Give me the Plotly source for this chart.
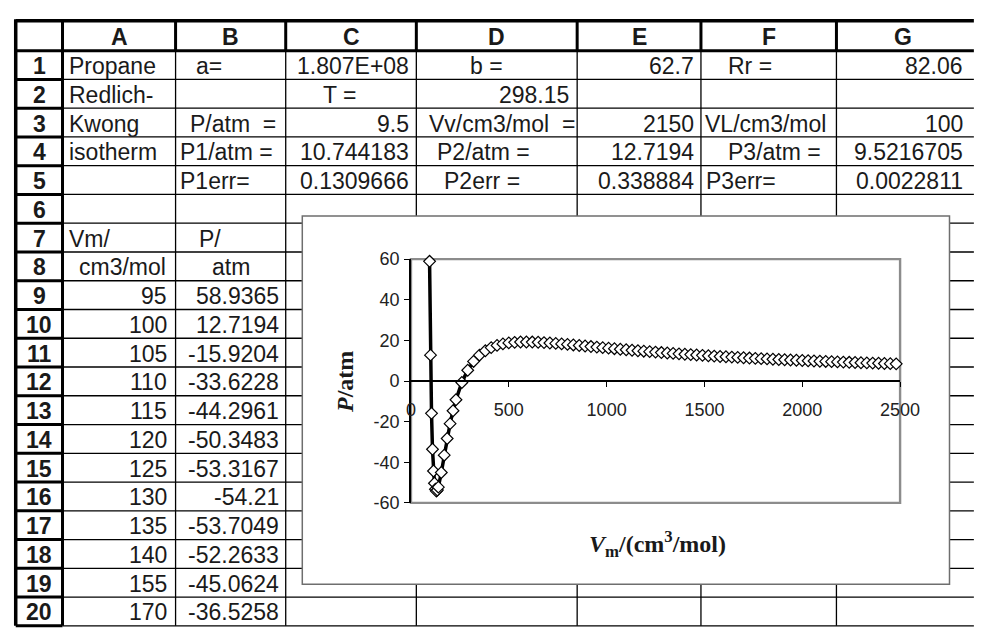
import plotly.graph_objects as go

W, H = 989, 631

# Redlich-Kwong isotherm for propane at 298.15 K
vm = [95, 100, 105, 110, 115, 120, 125, 130, 135, 140,
      155, 170, 185, 200, 215, 230,
      260, 290, 320, 350, 380, 410, 440, 470, 500, 530,
      560, 590, 620, 650, 680, 710, 740, 770, 800, 830,
      860, 890, 920, 950, 980, 1010, 1040, 1070, 1100, 1130,
      1160, 1190, 1220, 1250, 1280, 1310, 1340, 1370, 1400, 1430,
      1460, 1490, 1520, 1550, 1580, 1610, 1640, 1670, 1700, 1730,
      1760, 1790, 1820, 1850, 1880, 1910, 1940, 1970, 2000, 2030,
      2060, 2090, 2120, 2150, 2180, 2210, 2240, 2270, 2300, 2330,
      2360, 2390, 2420, 2450, 2480]
p_atm = [58.9365, 12.7194, -15.9204, -33.6228, -44.2961, -50.3483, -53.3167, -54.21, -53.7049, -52.2633,
         -45.0624, -36.5258, -28.32, -20.99, -14.63, -9.21,
         -0.72, 5.32, 9.63, 12.71, 14.90, 16.45, 17.53, 18.27, 18.75, 19.04,
         19.19, 19.22, 19.18, 19.07, 18.91, 18.72, 18.51, 18.27, 18.02, 17.76,
         17.50, 17.23, 16.96, 16.70, 16.43, 16.17, 15.91, 15.65, 15.40, 15.16,
         14.92, 14.68, 14.45, 14.23, 14.01, 13.80, 13.59, 13.38, 13.18, 12.99,
         12.80, 12.62, 12.44, 12.26, 12.09, 11.93, 11.76, 11.61, 11.45, 11.30,
         11.15, 11.01, 10.87, 10.73, 10.60, 10.47, 10.34, 10.21, 10.09, 9.97,
         9.86, 9.74, 9.63, 9.52, 9.41, 9.31, 9.21, 9.11, 9.01, 8.91,
         8.82, 8.73, 8.64, 8.55, 8.46]

x_ticks = [0, 500, 1000, 1500, 2000, 2500]
y_ticks = [-60, -40, -20, 0, 20, 40, 60]

# worksheet parameter block (rows 1-8)
col_names = ["A", "B", "C", "D", "E", "F", "G"]
param_cells = [
    (1, "A", "Propane", "l", 5), (1, "B", "a=", "l", 19), (1, "C", "1.807E+08", "r", 5),
    (1, "D", "b =", "l", 53), (1, "E", "62.7", "r", 5), (1, "F", "Rr =", "l", 26),
    (1, "G", "82.06", "r", 5),
    (2, "A", "Redlich-", "l", 5), (2, "C", "T =", "l", 36), (2, "D", "298.15", "r", 6),
    (3, "A", "Kwong", "l", 5), (3, "B", "P/atm  =", "l", 13), (3, "C", "9.5", "r", 5),
    (3, "D", "Vv/cm3/mol  =", "l", 11), (3, "E", "2150", "r", 5), (3, "F", "VL/cm3/mol", "l", 2),
    (3, "G", "100", "r", 5),
    (4, "A", "isotherm", "l", 5), (4, "B", "P1/atm =", "l", 2), (4, "C", "10.744183", "r", 5),
    (4, "D", "P2/atm =", "l", 19), (4, "E", "12.7194", "r", 5), (4, "F", "P3/atm =", "l", 26),
    (4, "G", "9.5216705", "r", 5),
    (5, "B", "P1err=", "l", 2), (5, "C", "0.1309666", "r", 5), (5, "D", "P2err =", "l", 26),
    (5, "E", "0.338884", "r", 5), (5, "F", "P3err=", "l", 3), (5, "G", "0.0022811", "r", 5),
    (7, "A", "Vm/", "l", 5), (7, "B", "P/", "l", 22),
    (8, "A", "cm3/mol", "c", 4), (8, "B", "atm", "c", 0),
]
first_data_row = 9
n_rows = 20

# sheet geometry (pixels)
col_edges = [59, 175, 288, 422, 587, 714, 853, 990]
left_edge, top_edge, header_bottom, row_h = 11, 11, 42, 29.7
chart_box = (305, 212.7, 969, 593)
plot_px = (416.5, 257.3, 918.3, 509)   # left, top, right, bottom

CELL_FONT = "Arial, Liberation Sans, sans-serif"
SERIF = "Times New Roman, Liberation Serif, serif"
TXT = "#1a1a1a"


def fx(px):
    return px / W


def fy(py):
    return 1 - py / H


def row_top(r):
    return header_bottom + (r - 1) * row_h


shapes = []


def line(x0, y0, x1, y1, w, color="black"):
    shapes.append(dict(type="line", xref="paper", yref="paper",
                       x0=fx(x0), y0=fy(y0), x1=fx(x1), y1=fy(y1),
                       line=dict(color=color, width=w), layer="below"))


# thin cell grid
for xe in col_edges[1:-1]:
    line(xe, header_bottom, xe, H + 5, 1.3)
for r in range(1, n_rows + 1):
    yb = row_top(r) + row_h
    line(col_edges[0], yb, W + 5, yb, 1.3)
# heavy header borders
for xe in col_edges[1:-1]:
    line(xe, top_edge, xe, header_bottom, 3)
for r in range(1, n_rows + 1):
    yb = row_top(r) + row_h
    line(left_edge, yb, col_edges[0], yb, 3)
line(left_edge, top_edge - 1.5, left_edge, H + 5, 3.5)
line(col_edges[0], top_edge, col_edges[0], H + 5, 3)
line(left_edge, top_edge, W + 5, top_edge, 3.5)
line(left_edge, header_bottom, W + 5, header_bottom, 3)

# embedded chart frame
cx0, cy0, cx1, cy1 = chart_box
shapes.append(dict(type="rect", xref="paper", yref="paper",
                   x0=fx(cx0), y0=fy(cy1), x1=fx(cx1), y1=fy(cy0),
                   fillcolor="white", line=dict(color="#6e6e6e", width=1.5), layer="below"))
# plot-area border
shapes.append(dict(type="rect", xref="x domain", yref="y domain", x0=0, x1=1, y0=0, y1=1,
                   line=dict(color="#8c8c8c", width=2.4), layer="below"))

annotations = []


def text(x, y, s, anchor="center", size=23, bold=False, family=CELL_FONT, angle=0):
    annotations.append(dict(xref="paper", yref="paper", x=fx(x), y=fy(y),
                            text=f"<b>{s}</b>" if bold else s, showarrow=False,
                            xanchor=anchor, yanchor="middle", textangle=angle,
                            font=dict(family=family, size=size, color=TXT)))


# column letters and row numbers
for i, name in enumerate(col_names):
    text((col_edges[i] + col_edges[i + 1]) / 2, (top_edge + header_bottom) / 2 + 1, name, bold=True)
for r in range(1, n_rows + 1):
    text((left_edge + col_edges[0]) / 2, row_top(r) + row_h / 2 + 1, str(r), bold=True)


def cell(r, col, s, align, pad):
    i = col_names.index(col)
    yc = row_top(r) + row_h / 2 + 1
    if align == "l":
        text(col_edges[i] + pad, yc, s, anchor="left")
    elif align == "r":
        text(col_edges[i + 1] - pad, yc, s, anchor="right")
    else:
        text((col_edges[i] + col_edges[i + 1]) / 2 + pad, yc, s)


for r, col, s, align, pad in param_cells:
    cell(r, col, s, align, pad)

# tabulated isotherm values
for k in range(n_rows - first_data_row + 1):
    r = first_data_row + k
    cell(r, "A", str(vm[k]), "r", 7)
    cell(r, "B", str(p_atm[k]), "r", 5)

# axis titles
text(349, 384, "<i>P</i>/atm", bold=True, family=SERIF, size=24, angle=-90)
text(669, 551, "<i>V</i><sub>m</sub>/(cm<sup>3</sup>/mol)", bold=True, family=SERIF, size=24)

pl, pt, pr, pb = plot_px
x_dom = [fx(pl), fx(pr)]
y_dom = [fy(pb), fy(pt)]
y_rng = [y_ticks[0], y_ticks[-1]]
x_rng = [x_ticks[0], x_ticks[-1]]
zero_pos = y_dom[0] + (y_dom[1] - y_dom[0]) * (0 - y_rng[0]) / (y_rng[1] - y_rng[0])

fig = go.Figure()
fig.add_trace(go.Scatter(
    x=vm, y=p_atm, mode="lines+markers",
    line=dict(color="black", width=3.5),
    marker=dict(symbol="diamond", size=9, color="white", line=dict(color="black", width=1.2)),
    cliponaxis=False, showlegend=False, hoverinfo="x+y"))

tick_font = dict(family=CELL_FONT, size=18, color="#222222")
common_x = dict(range=x_rng, domain=x_dom, anchor="free", position=zero_pos,
                tickvals=x_ticks, ticktext=[str(v) for v in x_ticks],
                showgrid=False, zeroline=False,
                tickcolor="black", ticklen=5, tickwidth=1)
common_y = dict(range=y_rng, domain=y_dom, anchor="x",
                tickvals=y_ticks, ticktext=[str(v) for v in y_ticks],
                showgrid=False, zeroline=False, tickcolor="black", ticklen=5, tickwidth=1)

fig.update_layout(
    width=W, height=H, margin=dict(l=0, r=0, t=0, b=0),
    paper_bgcolor="white", plot_bgcolor="white",
    shapes=shapes, annotations=annotations, showlegend=False,
    xaxis=dict(**common_x, ticks="outside", showline=True, linecolor="black", linewidth=1.5,
               tickfont=tick_font, ticklabelstandoff=8),
    xaxis2=dict(**common_x, overlaying="x", ticks="inside", showline=False, showticklabels=False),
    yaxis=dict(**common_y, ticks="outside", showline=True, linecolor="black", linewidth=1.8,
               tickfont=tick_font, ticklabelstandoff=1),
    yaxis2=dict(**common_y, overlaying="y", ticks="inside", showline=False, showticklabels=False),
)

fig.write_html("out.html")
